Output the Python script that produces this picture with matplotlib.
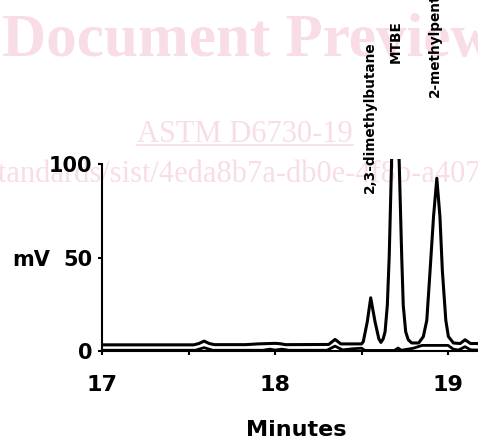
import matplotlib
matplotlib.use("Agg")
import matplotlib.pyplot as plt
from matplotlib.lines import Line2D

# Upper trace (sample), minutes / mV
sample_min = [17.00, 17.53, 17.56, 17.59, 17.62, 17.65, 17.83, 17.90, 18.00, 18.03,
              18.06, 18.31, 18.347, 18.38, 18.50, 18.51, 18.533, 18.553, 18.578, 18.600,
              18.612, 18.625, 18.636, 18.649, 18.660, 18.674, 18.695, 18.717, 18.732, 18.741,
              18.755, 18.770, 18.790, 18.830, 18.857, 18.877, 18.896, 18.916, 18.935, 18.953,
              18.967, 18.987, 19.002, 19.031, 19.070, 19.098, 19.130, 19.175]
sample_mv = [3.3, 3.3, 4.0, 5.3, 4.0, 3.4, 3.4, 3.8, 4.1, 3.9,
             3.4, 3.5, 6.2, 3.8, 3.8, 5.0, 15.6, 28.5, 15.6, 6.5,
             4.6, 6.5, 10.3, 24.5, 51.0, 103.0, 160.0, 103.0, 51.0, 24.5,
             10.3, 6.0, 4.3, 4.3, 7.7, 16.4, 43.0, 72.0, 92.5, 72.0,
             43.0, 16.4, 7.7, 4.3, 4.0, 6.0, 4.0, 4.0]

# Lower trace (reference run)
blank_min = [17.00, 17.54, 17.59, 17.64, 17.93, 17.97, 18.00, 18.04, 18.08, 18.30,
             18.347, 18.39, 18.45, 18.50, 18.52, 18.69, 18.711, 18.73, 18.80, 18.85,
             19.00, 19.03, 19.06, 19.098, 19.13, 19.175]
blank_mv = [0.4, 0.4, 1.8, 0.4, 0.4, 1.0, 0.5, 1.0, 0.4, 0.4,
            2.6, 0.6, 1.2, 1.5, 0.3, 0.3, 1.6, 0.4, 1.5, 3.0,
            3.0, 1.0, 0.5, 2.3, 0.6, 0.5]

peak_names = ["2,3-dimethylbutane", "MTBE", "2-methylpentane"]
peak_min = [18.549, 18.699, 18.925]
label_mv = [84.5, 154, 136]

x_major = [17, 18, 19]
x_minor = [17.5, 18.5]
y_major = [0, 50, 100]

W, H = 478, 437
fig = plt.figure(figsize=(W / 100, H / 100), dpi=100)

# watermark, drawn behind the chart
wm = "#f9dde6"
fig.text(2 / W, 1 - 56 / H, "Document Preview", family="Liberation Serif",
         weight="bold", size=44, color=wm, va="baseline", zorder=-2)
astm = fig.text(137 / W, 1 - 142 / H, "ASTM D6730-19", family="Liberation Serif",
                size=22, color=wm, va="baseline", zorder=-2)

fig.canvas.draw()
r = fig.canvas.get_renderer()
pre = fig.text(0, 0, "standards/sist/", family="Liberation Serif", size=22)
pre_w = pre.get_window_extent(r).width
pre.remove()
fig.text((160 - pre_w) / W, 1 - 182 / H, "standards/sist/4eda8b7a-db0e-4f8b-a407",
         family="Liberation Serif", size=22, color=wm, va="baseline", zorder=-2)
bb = astm.get_window_extent(r)
fig.add_artist(Line2D([bb.x0 / W, bb.x1 / W], [1 - 145 / H, 1 - 145 / H],
                      color=wm, lw=1.2, zorder=-2))

ax = fig.add_axes([102 / W, 1 - 351 / H, 1 - 102 / W, (351 - 158.7) / H])
ax.patch.set_alpha(0)

ax.plot(sample_min, sample_mv, color="black", lw=2.2)
ax.plot(blank_min, blank_mv, color="black", lw=2.0)

ax.set_xlim(17, 19.173)
ax.set_ylim(0, 103)
for s in ["top", "right"]:
    ax.spines[s].set_visible(False)
ax.spines["left"].set_bounds(0, 100)
ax.spines["left"].set_linewidth(1.5)
ax.spines["bottom"].set_linewidth(1.5)

ax.set_xticks(x_major)
ax.set_xticks(x_minor, minor=True)
ax.set_yticks(y_major)
ax.tick_params(axis="both", which="both", direction="out", length=3, width=1.5)
ax.tick_params(axis="x", which="major", pad=14.5, labelsize=16)
ax.tick_params(axis="y", pad=4, labelsize=15)
for lab in ax.get_xticklabels() + ax.get_yticklabels():
    lab.set_fontweight("bold")

for name, t, y in zip(peak_names, peak_min, label_mv):
    ax.text(t, y, name, rotation=90, ha="center", va="bottom", size=9.8,
            weight="bold", clip_on=False)

fig.text(12 / W, 1 - 266 / H, "mV", size=15, weight="bold", va="baseline")
fig.text(296 / W, 1 - 435.5 / H, "Minutes", size=16, weight="bold",
         ha="center", va="baseline")

fig.savefig("out.png", dpi=100)
